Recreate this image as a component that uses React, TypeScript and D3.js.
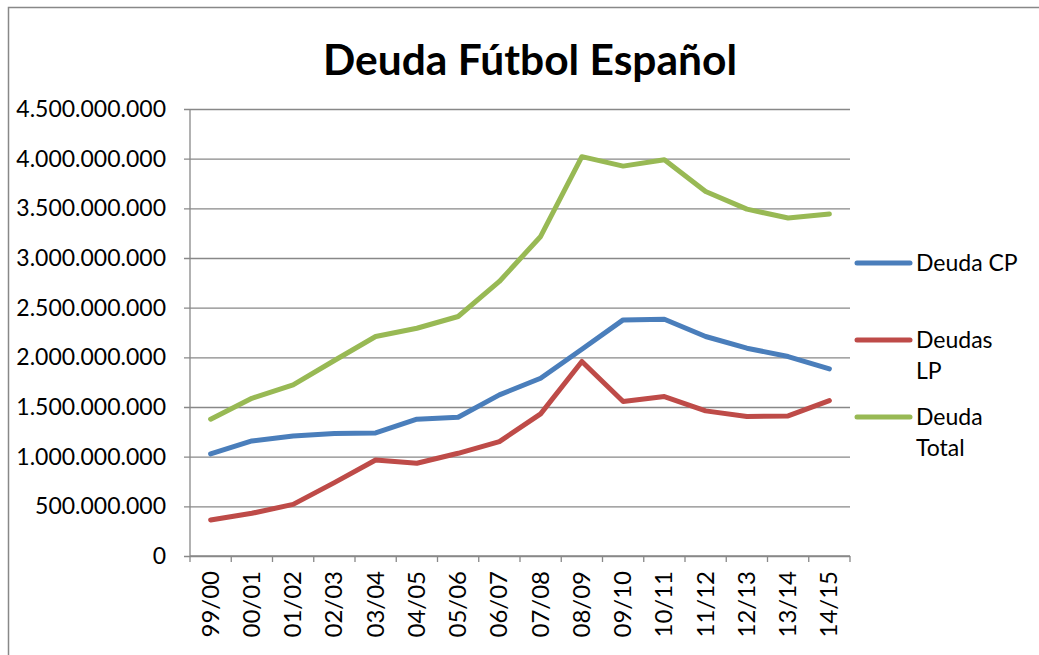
import * as React from "react";
import * as d3 from "d3";

const seasons = [
  "99/00", "00/01", "01/02", "02/03", "03/04", "04/05", "05/06", "06/07",
  "07/08", "08/09", "09/10", "10/11", "11/12", "12/13", "13/14", "14/15",
];
// millions of euros
const deudaCP = [1028, 1158, 1209, 1232, 1239, 1377, 1397, 1622, 1790, 2082, 2377, 2384, 2210, 2092, 2008, 1884];
const deudasLP = [363, 430, 520, 739, 967, 934, 1034, 1152, 1431, 1958, 1555, 1605, 1461, 1404, 1410, 1565];
const deudaTotal = [1377, 1588, 1723, 1968, 2210, 2293, 2411, 2764, 3217, 4020, 3925, 3990, 3670, 3492, 3402, 3442];
const yTicks = [0, 500, 1000, 1500, 2000, 2500, 3000, 3500, 4000, 4500];

const series = [
  { name: ["Deuda CP"], values: deudaCP, color: "#4a7ebb" },
  { name: ["Deudas", "LP"], values: deudasLP, color: "#be4b48" },
  { name: ["Deuda", "Total"], values: deudaTotal, color: "#98b954" },
];

const W = 1039;
const H = 655;
const FONT = "Lato, 'Open Sans', sans-serif";

export default function App() {
  const ref = React.useRef<SVGSVGElement | null>(null);

  React.useEffect(() => {
    const svg = d3.select(ref.current);
    svg.selectAll("*").remove();

    const left = 190;
    const right = 850;
    const top = 109;
    const bottom = 556;

    const x = d3.scaleBand<string>().domain(seasons).range([left, right]);
    const y = d3.scaleLinear().domain([0, 4500]).range([bottom, top]);
    const grid = "#888888";

    svg.append("rect")
      .attr("x", 8.5).attr("y", 7.5)
      .attr("width", W).attr("height", H)
      .attr("fill", "white")
      .attr("stroke", grid).attr("stroke-width", 1.5);

    svg.append("text")
      .attr("x", 530).attr("y", 75)
      .attr("text-anchor", "middle")
      .attr("font-family", FONT)
      .attr("font-weight", "bold")
      .attr("font-size", 42.5)
      .text("Deuda Fútbol Español");

    // y axis + gridlines
    const yAxis = d3.axisLeft(y)
      .tickValues(yTicks)
      .tickSize(-(right - left))
      .tickSizeOuter(0)
      .tickPadding(24)
      .tickFormat((d) => {
        const v = (d as number) * 1e6;
        return v === 0 ? "0" : d3.format(",")(v).replace(/,/g, ".");
      });
    const gy = svg.append("g").attr("transform", `translate(${left},0)`).call(yAxis);
    gy.select(".domain").remove();
    gy.selectAll("line").attr("stroke", grid).attr("stroke-width", 1.3).attr("x2", right - left).attr("x1", -6);
    gy.selectAll("text")
      .attr("fill", "black")
      .attr("font-family", FONT)
      .attr("font-size", 23);

    svg.append("line")
      .attr("x1", left).attr("x2", left)
      .attr("y1", top).attr("y2", bottom)
      .attr("stroke", grid).attr("stroke-width", 1.3);

    // x axis
    const bounds = seasons.map((s) => x(s)!).concat([right]);
    const gx = svg.append("g");
    gx.append("line")
      .attr("x1", left).attr("x2", right)
      .attr("y1", bottom).attr("y2", bottom)
      .attr("stroke", grid).attr("stroke-width", 1.3);
    gx.selectAll(".tk")
      .data(bounds)
      .enter()
      .append("line")
      .attr("x1", (d) => d).attr("x2", (d) => d)
      .attr("y1", bottom).attr("y2", bottom + 6)
      .attr("stroke", grid).attr("stroke-width", 1.3);
    gx.selectAll(".lbl")
      .data(seasons)
      .enter()
      .append("text")
      .attr("transform", (d) => `translate(${x(d)! + x.bandwidth() / 2 + 8},${bottom + 15}) rotate(-90)`)
      .attr("text-anchor", "end")
      .attr("font-family", FONT)
      .attr("font-size", 24)
      .text((d) => d);

    const line = d3.line<number>()
      .x((_, i) => x(seasons[i])! + x.bandwidth() / 2)
      .y((d) => y(d));

    series.forEach((s) => {
      svg.append("path")
        .datum(s.values)
        .attr("d", line)
        .attr("fill", "none")
        .attr("stroke", s.color)
        .attr("stroke-width", 5)
        .attr("stroke-linejoin", "round")
        .attr("stroke-linecap", "round");
    });

    // legend
    const legendY = [263, 340, 417];
    series.forEach((s, i) => {
      const g = svg.append("g").attr("transform", `translate(0,${legendY[i]})`);
      g.append("line")
        .attr("x1", 857).attr("x2", 910)
        .attr("y1", 0).attr("y2", 0)
        .attr("stroke", s.color).attr("stroke-width", 5)
        .attr("stroke-linecap", "round");
      s.name.forEach((t, j) => {
        g.append("text")
          .attr("x", 916).attr("y", 8 + j * 31)
          .attr("font-family", FONT)
          .attr("font-size", 23)
          .text(t);
      });
    });
  }, []);

  return (
    <svg
      ref={ref}
      width={W}
      height={H}
      style={{ position: "absolute", left: 0, top: 0, display: "block" }}
    />
  );
}
